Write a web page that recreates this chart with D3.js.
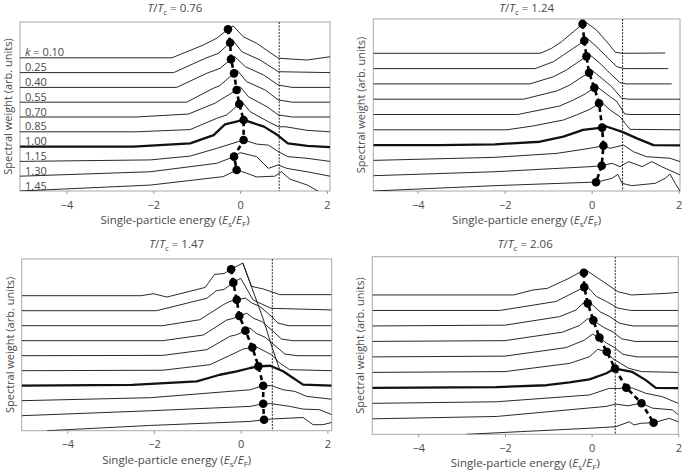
<!DOCTYPE html>
<html><head><meta charset="utf-8">
<script src="https://cdn.jsdelivr.net/npm/d3@7"></script>
<style>
body{margin:0;background:#fff;}
svg{display:block;}
text{font-family:"Open Sans","DejaVu Sans",sans-serif;fill:#4a4a4a;}
</style></head>
<body><svg id="c" width="685" height="475"></svg>
<script>
// ---------------- DATA ----------------
const kValues = ["0.10","0.25","0.40","0.55","0.70","0.85","1.00","1.15","1.30","1.45"];
const tempRatios = ["0.76","1.24","1.47","2.06"];
const xTicks = [-4,-2,0,2];
const fermiEnergyLine = [0.90, 0.71, 0.73, 0.545];

// EDCs: each curve = [[energy, intensity], ...], one per k (top to bottom)
const edcT076 = [
 [[-5.07,0],[-1.57,0],[-0.85,0.86],[-0.54,1.32],[-0.28,1.93],[-0.16,2.15],[0.07,1.43],[0.38,0.98],[0.88,-0.03],[1.54,-0.15],[2.07,0.07]],
 [[-5.07,0],[-1.53,0],[-0.8,0.97],[-0.5,1.3],[-0.23,2.02],[-0.15,2.12],[0.04,1.41],[0.46,0.85],[0.88,0.06],[2.07,0]],
 [[-5.07,0],[-1.46,0],[-0.77,0.95],[-0.46,1.29],[-0.21,1.9],[-0.12,2.07],[0.12,1.4],[0.54,0.84],[0.88,0.16],[1.2,0],[2.07,0]],
 [[-5.07,0],[-1.23,0],[-0.62,0.94],[-0.48,1.1],[-0.14,1.95],[-0.06,2.13],[0.15,1.39],[0.58,0.82],[0.88,0.15],[1.2,0],[2.07,0]],
 [[-5.07,0],[-2.4,0],[-1.19,0.2],[-0.58,0.93],[-0.46,1.15],[-0.08,1.82],[0,2.05],[0.19,1.37],[0.62,0.69],[0.88,0.14],[1.2,0],[2.07,0]],
 [[-5.07,0],[-2.4,0],[-1.15,0.15],[-0.54,0.91],[-0.31,1.14],[-0.02,1.88],[0.04,2.03],[0.23,1.36],[0.65,0.68],[0.88,0.34],[1.05,0.34],[1.54,0.1],[2.07,0]],
 [[-5.07,0],[-2.46,0],[-1.15,0.22],[-0.61,0.78],[-0.35,1.5],[0.08,1.8],[0.55,1.35],[0.86,0.78],[1.1,0.22],[1.55,0.05],[2.07,-0.03]],
 [[-5.07,0],[-2.07,0.1],[-1.15,0.36],[-0.54,0.88],[0.08,1.45],[0.38,1.17],[0.65,1.1],[0.88,0.66],[1.1,0.32],[1.54,0.21],[2.07,0]],
 [[-5.07,0],[-2.07,0.3],[-0.54,0.87],[-0.14,1.32],[0,1.59],[0.38,1.32],[0.65,0.53],[0.88,0.76],[1.07,0.53],[1.54,0.3],[2.07,0]],
 [[-5.07,0],[-2.07,0.4],[-0.39,0.97],[-0.08,1.42],[0.15,1.2],[0.38,0.95],[0.8,1.0],[0.95,1.3],[1.15,0.8],[1.55,0.4],[1.88,-0.15],[2.07,-0.3]]
];
const edcT124 = [
 [[-5.02,0],[-1.19,0],[-1.1,0.1],[-0.92,0.33],[-0.69,0.76],[-0.42,1.41],[-0.21,1.92],[-0.12,2.0],[0.11,1.52],[0.38,0.65],[0.54,0.07],[0.7,0],[1.69,0.02]],
 [[-5.02,0],[-1.3,0],[-0.88,0.45],[-0.65,0.89],[-0.42,1.33],[-0.17,1.82],[-0.08,1.92],[0.15,1.33],[0.38,0.67],[0.58,0.12],[0.75,0],[1.76,0]],
 [[-5.02,0],[-1.42,0],[-0.88,0.47],[-0.58,0.91],[-0.35,1.35],[-0.12,1.8],[-0.04,1.9],[0.19,1.35],[0.42,0.69],[0.65,0.08],[0.8,0],[1.84,0]],
 [[-5.02,0],[-1.57,0],[-0.8,0.54],[-0.5,0.93],[-0.27,1.37],[-0.06,1.73],[0.0,1.9],[0.23,1.37],[0.46,0.82],[0.69,0.06],[0.85,0],[2.03,0]],
 [[-5.02,0],[-1.7,0],[-0.73,0.56],[-0.42,0.95],[-0.15,1.34],[0.06,1.75],[0.1,1.86],[0.34,1.34],[0.58,0.84],[0.76,0.03],[0.9,0],[2.03,0]],
 [[-5.02,0],[-1.95,0],[-1.35,0.25],[-0.65,0.64],[-0.35,0.97],[-0.04,1.34],[0.17,1.73],[0.21,1.84],[0.42,1.3],[0.65,0.86],[0.77,0.42],[0.88,0.03],[2.03,0]],
 [[-5.02,0],[-3.5,0],[-2.22,0.05],[-1.19,0.22],[-0.65,0.55],[-0.2,0.99],[0.24,1.14],[0.3,1.25],[0.69,0.88],[1.04,0.44],[1.42,0],[2.03,-0.02]],
 [[-5.02,0],[-2.22,0.2],[-0.8,0.46],[-0.04,0.79],[0.27,0.96],[0.42,0.79],[0.73,1.0],[0.96,0.57],[1.26,0.24],[1.8,0.14],[2.03,-0.08]],
 [[-5.02,0],[-2.22,0.26],[-0.04,0.59],[0.23,0.65],[0.47,0.81],[0.65,0.59],[0.85,0.92],[1.16,0.59],[1.38,0.92],[1.61,0.59],[2.03,0.05]],
 [[-5.02,0],[-2.22,0.35],[-0.04,0.57],[0.1,0.57],[0.47,0.83],[0.6,1.09],[0.7,0.5],[0.92,0.35],[1.46,0.5],[1.69,0.83],[1.8,1.11],[1.92,0.5],[2.03,0.0]]
];
const edcT147 = [
 [[-5.05,0],[-2.3,0],[-2.01,0.13],[-1.7,-0.09],[-0.82,0.55],[-0.6,1.42],[-0.38,1.48],[-0.22,1.76],[0.05,2.18],[0.25,0.62],[0.52,0.45],[0.9,0.07],[2.1,0.07]],
 [[-5.05,0],[-1.94,0],[-0.78,0.83],[-0.56,1.33],[-0.38,1.42],[-0.17,1.87],[0.0,2.16],[0.29,0.71],[0.7,0.16],[2.1,0.05]],
 [[-5.05,0],[-1.8,0],[-0.94,0.4],[-0.4,1.4],[-0.25,1.62],[-0.09,1.73],[0.11,1.84],[0.26,1.51],[0.44,1.29],[0.71,0.62],[0.86,0.18],[1.1,0],[2.1,0]],
 [[-5.05,0],[-1.8,0],[-0.86,0.38],[-0.32,1.38],[-0.17,1.49],[-0.03,1.65],[0.14,1.83],[0.3,1.49],[0.49,1.27],[0.76,0.6],[0.94,0.11],[1.2,0],[2.1,0]],
 [[-5.05,0],[-1.8,0.02],[-0.78,0.4],[-0.25,1.29],[-0.09,1.4],[0.11,1.67],[0.21,1.85],[0.37,1.47],[0.56,1.24],[0.83,0.58],[1.02,0.11],[1.3,0],[2.1,0]],
 [[-5.05,0],[-1.8,0.03],[-0.71,0.4],[-0.13,1.18],[0.06,1.45],[0.27,1.55],[0.37,1.58],[0.56,1.29],[0.71,1.07],[0.9,0.51],[1.13,0.07],[2.1,0]],
 [[-5.05,0],[-2.5,0.05],[-1.01,0.29],[-0.48,0.73],[-0.09,0.96],[0.22,1.18],[0.41,1.29],[0.68,1.33],[0.98,0.96],[1.21,0.51],[1.44,0.07],[2.1,0]],
 [[-5.05,0],[-2.08,0.2],[0.22,0.73],[0.52,1.0],[0.71,1.0],[0.98,0.73],[1.25,0.62],[1.52,0.29],[2.1,0.1]],
 [[-5.05,0],[-2.08,0.33],[0.22,0.62],[0.52,0.8],[0.71,0.8],[1.13,0.62],[1.44,0.44],[1.82,0.4],[2.1,0.07]],
 [[-4.47,0],[-2.08,0.35],[0.22,0.62],[0.54,0.73],[0.71,0.78],[1.44,0.88],[1.67,0.4],[1.9,0.4],[2.1,0.55]]
];
// stray steep trace in the T/Tc = 1.47 panel, intensity relative to the k = 0.10 baseline
const strayTraceT147 = [[0.05,2.18],[0.52,-1.55],[0.72,-3.4],[0.9,-4.93]];
const edcT206 = [
 [[-5.06,0],[-1.8,0],[-1.36,0.32],[-1.02,0.43],[-0.52,1.08],[-0.28,1.45],[-0.18,1.44],[-0.13,1.61],[0.15,1.08],[0.61,0.21],[0.92,0],[1.76,0.11],[2.0,0.17]],
 [[-5.06,0],[-2.12,0],[-0.82,0.58],[-0.44,1.12],[-0.17,1.51],[-0.12,1.6],[0.11,0.9],[0.34,0.58],[0.61,0.15],[0.9,0],[2.0,0]],
 [[-5.06,0],[-2.0,0.05],[-0.74,0.6],[-0.36,1.03],[-0.2,1.46],[-0.09,1.46],[-0.06,1.57],[0.19,0.92],[0.42,0.6],[0.65,0.17],[0.95,0],[2.0,0]],
 [[-5.06,0],[-2.0,0.05],[-0.67,0.6],[-0.28,1.03],[-0.09,1.47],[0.04,1.36],[0.27,0.92],[0.5,0.6],[0.69,0.17],[1.0,0],[2.0,0]],
 [[-5.06,0],[-2.0,0.05],[-0.59,0.6],[-0.17,1.08],[0.02,1.47],[0.18,1.25],[0.34,0.9],[0.53,0.6],[0.72,0.17],[1.05,0],[2.0,0]],
 [[-5.06,0],[-2.0,0.05],[-0.51,0.58],[-0.05,1.01],[0.14,1.49],[0.35,1.33],[0.48,0.9],[0.67,0.58],[0.86,0.26],[1.15,0.05],[2.0,0]],
 [[-5.06,0],[-2.2,0.05],[-1.04,0.17],[-0.51,0.35],[-0.05,0.55],[0.33,0.93],[0.54,1.25],[0.94,1.03],[1.25,0.5],[1.48,0],[2.0,-0.02]],
 [[-5.06,0],[-2.2,0.1],[-0.05,0.54],[0.41,0.97],[0.6,0.95],[0.8,1.01],[0.95,0.98],[1.25,0.65],[1.63,0.43],[2.0,0.0]],
 [[-5.06,0],[-2.2,0.15],[0.33,0.8],[0.56,0.95],[0.84,0.84],[1.15,1.01],[1.4,0.69],[1.86,0.58],[2.0,0.26]],
 [[-2.89,0],[-0.05,0.39],[0.56,0.49],[0.87,0.81],[0.98,0.6],[1.13,0.71],[1.43,0.75],[1.79,1.03],[2.0,0.81]]
];
// Peak positions (dots): energy and intensity, per k
const peakE_T076 = [-0.28,-0.23,-0.21,-0.14,-0.08,-0.02,0.08,0.08,-0.14,-0.08];
const peakI_T076 = [1.93,2.02,1.9,1.95,1.82,1.88,1.8,1.45,1.32,1.42];
const peakE_T124 = [-0.21,-0.17,-0.12,-0.06,0.06,0.17,0.24,0.27,0.23,0.1];
const peakI_T124 = [1.92,1.82,1.8,1.73,1.75,1.73,1.14,0.96,0.65,0.57];
const peakE_T147 = [-0.22,-0.17,-0.09,-0.03,0.11,0.27,0.41,0.52,0.52,0.54];
const peakI_T147 = [1.76,1.87,1.73,1.65,1.67,1.55,1.29,1.0,0.8,0.73];
const peakE_T206 = [-0.18,-0.17,-0.09,0.04,0.18,0.35,0.54,0.8,1.15,1.43];
const peakI_T206 = [1.44,1.51,1.46,1.36,1.25,1.33,1.25,1.01,1.01,0.75];

// ---------------- LAYOUT ----------------
const panels = [
 {t:tempRatios[0], edc:edcT076, pe:peakE_T076, pi:peakI_T076, ef:fermiEnergyLine[0], l:20, r:330, top:22, b:191, ty:11.5, xd:[-5.07,2.07], sp:14.8, klabels:true},
 {t:tempRatios[1], edc:edcT124, pe:peakE_T124, pi:peakI_T124, ef:fermiEnergyLine[1], l:373.3, r:680, top:19, b:191, ty:11.5, xd:[-5.02,2.03], sp:15.3},
 {t:tempRatios[2], edc:edcT147, pe:peakE_T147, pi:peakI_T147, ef:fermiEnergyLine[2], l:21.7, r:331.7, top:259, b:430.7, ty:248, xd:[-5.05,2.1], sp:15.0, stray:strayTraceT147},
 {t:tempRatios[3], edc:edcT206, pe:peakE_T206, pi:peakI_T206, ef:fermiEnergyLine[3], l:372.3, r:678.3, top:256.7, b:434.3, ty:248, xd:[-5.06,2.0], sp:15.48}
];

const svg = d3.select("#c");
const fmt = d => d < 0 ? "\u2212" + Math.abs(d) : String(d);

panels.forEach((p, pi) => {
  const w = p.r - p.l, h = p.b - p.top;
  const g = svg.append("g").attr("transform", `translate(${p.l},${p.top})`);
  const x = d3.scaleLinear().domain(p.xd).range([0, w]);
  const y = d3.scaleLinear().domain([0, h / p.sp]).range([h, 0]);
  const n = p.edc.length;

  const clipId = "clip" + pi;
  g.append("clipPath").attr("id", clipId).append("rect")
    .attr("x", 0).attr("y", 0).attr("width", w).attr("height", h);

  // frame
  g.append("rect").attr("x", 0).attr("y", 0).attr("width", w).attr("height", h)
    .attr("fill", "none").attr("stroke", "#a8a8a8").attr("stroke-width", 1);

  // x axis
  const ax = g.append("g").attr("transform", `translate(0,${h})`)
    .call(d3.axisBottom(x).tickValues(xTicks).tickSize(3).tickPadding(7).tickFormat(fmt));
  ax.select(".domain").remove();
  ax.selectAll(".tick line").attr("stroke", "#999");
  ax.selectAll(".tick text").attr("font-size", 11).attr("fill", "#4a4a4a")
    .style("font-family", '"Open Sans","DejaVu Sans",sans-serif');

  const plot = g.append("g").attr("clip-path", `url(#${clipId})`);

  // Fermi-level dotted line
  plot.append("line").attr("x1", x(p.ef)).attr("x2", x(p.ef)).attr("y1", 0).attr("y2", h)
    .attr("stroke", "#222").attr("stroke-width", 1).attr("stroke-dasharray", "2,1.3");

  const line = d3.line().x(d => x(d[0])).y(d => d[1]);
  p.edc.forEach((curve, i) => {
    const off = n - 1 - i;
    plot.append("path")
      .attr("d", line(curve.map(d => [d[0], y(off + d[1])])))
      .attr("fill", "none").attr("stroke", "#111")
      .attr("stroke-width", i === 6 ? 2.3 : 0.9)
      .attr("stroke-linejoin", "round");
  });
  if (p.stray) {
    plot.append("path")
      .attr("d", line(p.stray.map(d => [d[0], y(n - 1 + d[1])])))
      .attr("fill", "none").attr("stroke", "#111").attr("stroke-width", 0.9);
  }

  // peak track
  const pts = p.pe.map((e, i) => [e, y(n - 1 - i + p.pi[i])]);
  plot.append("path").attr("d", line(pts)).attr("fill", "none")
    .attr("stroke", "#000").attr("stroke-width", 2.6).attr("stroke-dasharray", "5,3.5");
  plot.selectAll("circle.pk").data(pts).enter().append("circle")
    .attr("cx", d => x(d[0])).attr("cy", d => d[1]).attr("r", 4.3).attr("fill", "#000");

  // k labels
  if (p.klabels) {
    kValues.forEach((k, i) => {
      const t = g.append("text").attr("x", 5).attr("y", y(n - 1 - i) - 1.5).attr("font-size", 11);
      if (i === 0) {
        t.append("tspan").attr("font-style", "italic").text("k");
        t.append("tspan").text(" = " + k);
      } else t.text(k);
    });
  }

  // title
  const tt = svg.append("text").attr("x", p.l + w / 2).attr("y", p.ty).attr("text-anchor", "middle").attr("font-size", 11.5);
  tt.append("tspan").attr("font-style", "italic").text("T");
  tt.append("tspan").text("/");
  tt.append("tspan").attr("font-style", "italic").text("T");
  tt.append("tspan").attr("font-size", 8).attr("dy", 3).text("c");
  tt.append("tspan").attr("dy", -3).text(" = " + p.t);

  // x title
  const xt = svg.append("text").attr("x", p.l + w / 2).attr("y", p.b + 33).attr("text-anchor", "middle").attr("font-size", 11.5);
  xt.append("tspan").text("Single-particle energy (");
  xt.append("tspan").attr("font-style", "italic").text("E");
  xt.append("tspan").attr("font-size", 8).attr("dy", 3).text("s");
  xt.append("tspan").attr("dy", -3).text("/");
  xt.append("tspan").attr("font-style", "italic").text("E");
  xt.append("tspan").attr("font-size", 8).attr("dy", 3).text("F");
  xt.append("tspan").attr("dy", -3).text(")");

  // y title
  svg.append("text").attr("transform", `translate(${p.l - 8},${p.top + h / 2}) rotate(-90)`)
    .attr("text-anchor", "middle").attr("font-size", 11).text("Spectral weight (arb. units)");
});
</script></body></html>
